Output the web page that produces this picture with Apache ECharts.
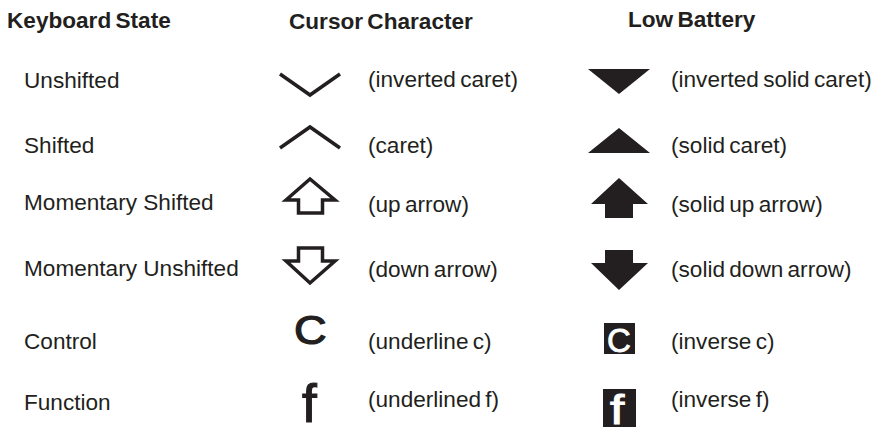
<!DOCTYPE html>
<html>
<head>
<meta charset="utf-8">
<style>
  html, body { margin: 0; background: #fff; }
  #chart { width: 875px; height: 428px; }
  /* the source squeezes the word gap in everything except the first column's rows */
  text[style*="Helvetica"] { word-spacing: -2px; }
</style>
</head>
<body>
<div id="chart"></div>
<script src="https://cdn.jsdelivr.net/npm/echarts@6/dist/echarts.min.js"></script>
<script>
const headers = ['Keyboard State', 'Cursor Character', 'Low Battery'];
const states = ['Unshifted', 'Shifted', 'Momentary Shifted', 'Momentary Unshifted', 'Control', 'Function'];
const cursorNames = ['(inverted caret)', '(caret)', '(up arrow)', '(down arrow)', '(underline c)', '(underlined f)'];
const batteryNames = ['(inverted solid caret)', '(solid caret)', '(solid up arrow)', '(solid down arrow)', '(inverse c)', '(inverse f)'];

const INK = '#231f20';
const TIGHT = "'Liberation Sans', Helvetica, Arial, sans-serif";
const PLAIN = "'Liberation Sans', Arial, sans-serif";
const BODY = '22.6px ';

// layout, in axis units (the hidden axes run 1:1 with the page)
const stateY = [80, 145, 202, 268, 341, 402];
const cursorY = [79, 145, 204, 269, 341, 399];
const batteryY = [79, 145, 204, 269, 341, 399];
const headerPos = [[7, 20], [289, 21], [628, 19]];

// glyph outlines, absolute in axis units
const cursorLines = [
  [[280, 74], [310, 95], [340, 74]],
  [[280, 148], [310, 127], [340, 148]],
  [[286, 200], [310, 179], [335, 200], [322.5, 200], [322.5, 213], [298.5, 213], [298.5, 200]],
  [[286, 261], [310, 283], [335, 261], [322.5, 261], [322.5, 248], [298.5, 248], [298.5, 261]]
];
const batteryShapes = [
  [[588, 69], [650, 69], [619, 94]],
  [[588, 153], [650, 153], [619, 128]],
  [[591, 204], [619, 178], [648, 204], [633, 204], [633, 218], [605, 218], [605, 204]],
  [[591, 263], [619, 290], [648, 263], [633, 263], [633, 250], [605, 250], [605, 263]]
];

function label(api, x, y, text, opts, scaleX) {
  const p = api.coord([x, y]);
  return {
    type: 'text',
    scaleX: scaleX || 1,
    originX: p[0],
    originY: p[1],
    style: Object.assign({
      x: p[0], y: p[1], text: text, fill: INK,
      font: BODY + TIGHT,
      textAlign: 'left', textVerticalAlign: 'middle'
    }, opts || {})
  };
}

function toPixels(api, pts) {
  return pts.map(function (pt) { return api.coord(pt); });
}

function renderRow(params, api) {
  const i = params.dataIndex;
  const kids = [
    label(api, 24, stateY[i], states[i], { font: BODY + PLAIN }),
    label(api, 368, cursorY[i], cursorNames[i]),
    label(api, 671, batteryY[i], batteryNames[i])
  ];
  if (i === 0 || i === 1) {
    kids.push({
      type: 'polyline',
      shape: { points: toPixels(api, cursorLines[i]) },
      style: { stroke: INK, lineWidth: 3.5, fill: null, lineJoin: 'miter' }
    });
  }
  if (i === 2 || i === 3) {
    kids.push({
      type: 'polygon',
      shape: { points: toPixels(api, cursorLines[i]) },
      style: { stroke: INK, lineWidth: 3.5, fill: '#fff', lineJoin: 'miter' }
    });
  }
  if (i < 4) {
    kids.push({
      type: 'polygon',
      shape: { points: toPixels(api, batteryShapes[i]) },
      style: { fill: INK }
    });
  }
  if (i === 4) {
    const a = api.coord([604, 323]), b = api.coord([635, 354]);
    kids.push(label(api, 294, 330, 'C', { font: '40px ' + PLAIN, stroke: INK, lineWidth: 1.2 }, 1.13));
    kids.push({ type: 'rect', shape: { x: a[0], y: a[1], width: b[0] - a[0], height: b[1] - a[1] }, style: { fill: INK } });
    kids.push(label(api, 607, 340, 'C', { font: '33px ' + PLAIN, fill: '#fff', stroke: '#fff', lineWidth: 0.8 }));
  }
  if (i === 5) {
    const a = api.coord([603, 389]), b = api.coord([636, 427]);
    kids.push(label(api, 302, 403, 'f', { font: '53px ' + PLAIN, stroke: INK, lineWidth: 1.2 }));
    kids.push({ type: 'rect', shape: { x: a[0], y: a[1], width: b[0] - a[0], height: b[1] - a[1] }, style: { fill: INK } });
    kids.push(label(api, 610, 410, 'f', { font: '41px ' + PLAIN, fill: '#fff', stroke: '#fff', lineWidth: 1 }, 1.25));
  }
  return { type: 'group', children: kids };
}

function renderHeader(params, api) {
  const i = params.dataIndex;
  return label(api, headerPos[i][0], headerPos[i][1], headers[i], { font: 'bold ' + BODY + TIGHT });
}

const chart = echarts.init(document.getElementById('chart'), null, { renderer: 'svg' });
chart.setOption({
  animation: false,
  backgroundColor: '#fff',
  grid: { left: 0, right: 0, top: 0, bottom: 0 },
  xAxis: { type: 'value', min: 0, max: 875, show: false },
  yAxis: { type: 'value', min: 0, max: 428, inverse: true, show: false },
  series: [
    { type: 'custom', coordinateSystem: 'cartesian2d', silent: true, clip: false, renderItem: renderHeader, data: headers.map(function (h, i) { return [i, i]; }) },
    { type: 'custom', coordinateSystem: 'cartesian2d', silent: true, clip: false, renderItem: renderRow, data: states.map(function (s, i) { return [i, i]; }) }
  ]
});
</script>
</body>
</html>
